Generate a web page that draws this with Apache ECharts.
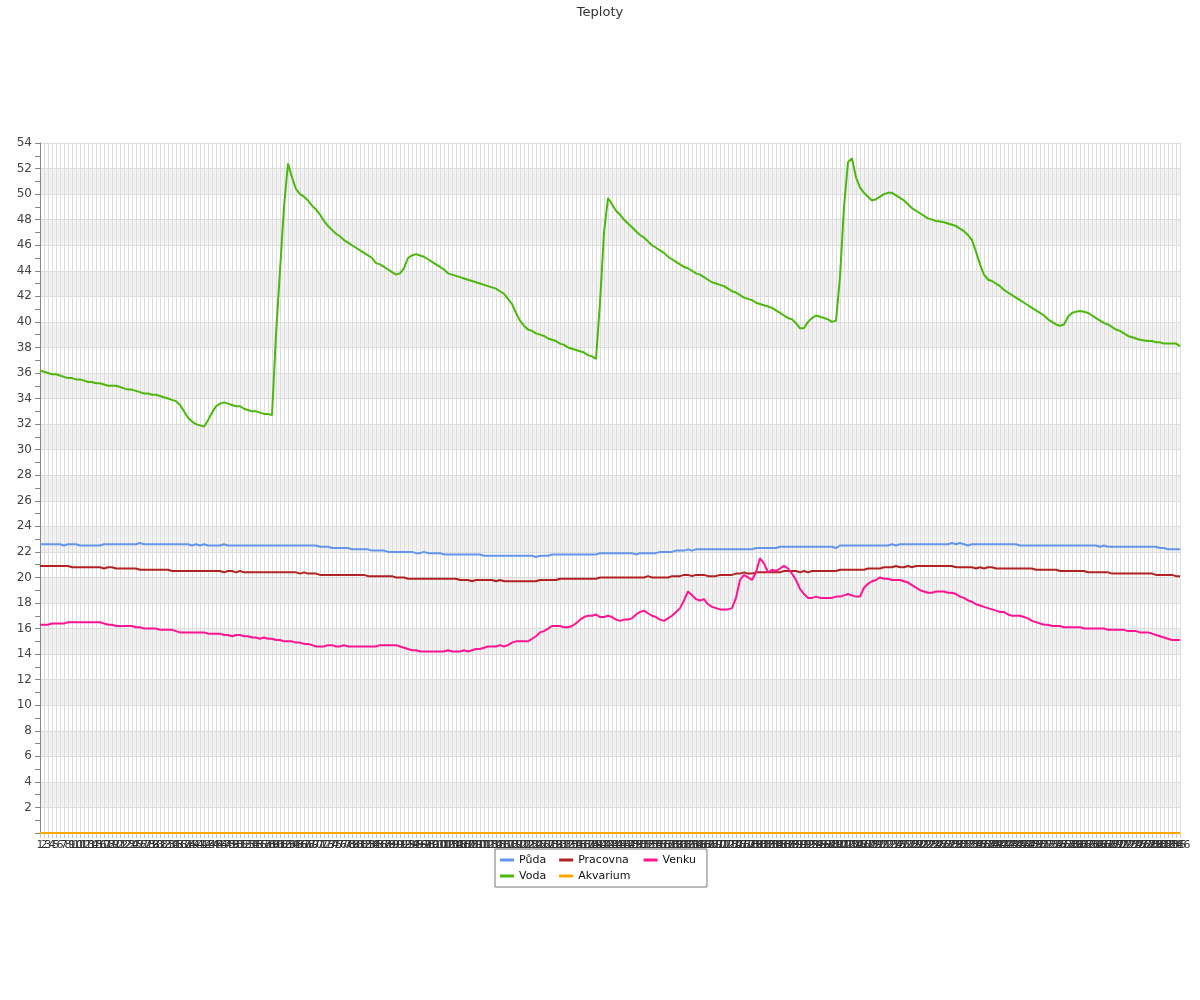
<!DOCTYPE html>
<html>
<head>
<meta charset="utf-8">
<script src="https://cdn.jsdelivr.net/npm/echarts@6/dist/echarts.min.js"></script>
<style>html,body{margin:0;padding:0;background:#fff}#c{width:1200px;height:1000px}</style>
</head>
<body>
<div id="c"></div>
<script>
const title = 'Teploty';
const seriesNames = ['Půda', 'Voda', 'Pracovna', 'Akvarium', 'Venku'];
const categories = [];
for (let i = 1; i <= 286; i++) categories.push(String(i));

const puda = [
22.6,22.6,22.6,22.6,22.6,22.6,22.5,22.6,22.6,22.6,
22.5,22.5,22.5,22.5,22.5,22.5,22.6,22.6,22.6,22.6,
22.6,22.6,22.6,22.6,22.6,22.7,22.6,22.6,22.6,22.6,
22.6,22.6,22.6,22.6,22.6,22.6,22.6,22.6,22.5,22.6,
22.5,22.6,22.5,22.5,22.5,22.5,22.6,22.5,22.5,22.5,
22.5,22.5,22.5,22.5,22.5,22.5,22.5,22.5,22.5,22.5,
22.5,22.5,22.5,22.5,22.5,22.5,22.5,22.5,22.5,22.5,
22.4,22.4,22.4,22.3,22.3,22.3,22.3,22.3,22.2,22.2,
22.2,22.2,22.2,22.1,22.1,22.1,22.1,22.0,22.0,22.0,
22.0,22.0,22.0,22.0,21.9,21.9,22.0,21.9,21.9,21.9,
21.9,21.8,21.8,21.8,21.8,21.8,21.8,21.8,21.8,21.8,
21.8,21.7,21.7,21.7,21.7,21.7,21.7,21.7,21.7,21.7,
21.7,21.7,21.7,21.7,21.6,21.7,21.7,21.7,21.8,21.8,
21.8,21.8,21.8,21.8,21.8,21.8,21.8,21.8,21.8,21.8,
21.9,21.9,21.9,21.9,21.9,21.9,21.9,21.9,21.9,21.8,
21.9,21.9,21.9,21.9,21.9,22.0,22.0,22.0,22.0,22.1,
22.1,22.1,22.2,22.1,22.2,22.2,22.2,22.2,22.2,22.2,
22.2,22.2,22.2,22.2,22.2,22.2,22.2,22.2,22.2,22.3,
22.3,22.3,22.3,22.3,22.3,22.4,22.4,22.4,22.4,22.4,
22.4,22.4,22.4,22.4,22.4,22.4,22.4,22.4,22.4,22.3,
22.5,22.5,22.5,22.5,22.5,22.5,22.5,22.5,22.5,22.5,
22.5,22.5,22.5,22.6,22.5,22.6,22.6,22.6,22.6,22.6,
22.6,22.6,22.6,22.6,22.6,22.6,22.6,22.6,22.7,22.6,
22.7,22.6,22.5,22.6,22.6,22.6,22.6,22.6,22.6,22.6,
22.6,22.6,22.6,22.6,22.6,22.5,22.5,22.5,22.5,22.5,
22.5,22.5,22.5,22.5,22.5,22.5,22.5,22.5,22.5,22.5,
22.5,22.5,22.5,22.5,22.5,22.4,22.5,22.4,22.4,22.4,
22.4,22.4,22.4,22.4,22.4,22.4,22.4,22.4,22.4,22.4,
22.3,22.3,22.2,22.2,22.2,22.2
];

const voda = [
36.2,36.1,36.0,35.9,35.9,35.8,35.7,35.6,35.6,35.5,
35.5,35.4,35.3,35.3,35.2,35.2,35.1,35.0,35.0,35.0,
34.9,34.8,34.7,34.7,34.6,34.5,34.4,34.4,34.3,34.3,
34.2,34.1,34.0,33.9,33.8,33.5,33.0,32.5,32.2,32.0,
31.9,31.8,32.3,32.9,33.4,33.6,33.7,33.6,33.5,33.4,
33.4,33.2,33.1,33.0,33.0,32.9,32.8,32.8,32.7,39.0,
44.0,49.0,52.4,51.3,50.4,50.0,49.8,49.5,49.1,48.8,
48.4,47.9,47.5,47.2,46.9,46.7,46.4,46.2,46.0,45.8,
45.6,45.4,45.2,45.0,44.6,44.5,44.3,44.1,43.9,43.7,
43.8,44.2,45.0,45.2,45.3,45.2,45.1,44.9,44.7,44.5,
44.3,44.1,43.8,43.7,43.6,43.5,43.4,43.3,43.2,43.1,
43.0,42.9,42.8,42.7,42.6,42.4,42.2,41.8,41.4,40.7,
40.1,39.7,39.4,39.3,39.1,39.0,38.9,38.7,38.6,38.5,
38.3,38.2,38.0,37.9,37.8,37.7,37.6,37.4,37.3,37.1,
41.5,47.0,49.7,49.2,48.7,48.4,48.0,47.7,47.4,47.1,
46.8,46.6,46.3,46.0,45.8,45.6,45.4,45.1,44.9,44.7,
44.5,44.3,44.2,44.0,43.8,43.7,43.5,43.3,43.1,43.0,
42.9,42.8,42.6,42.4,42.3,42.1,41.9,41.8,41.7,41.5,
41.4,41.3,41.2,41.1,40.9,40.7,40.5,40.3,40.2,39.9,
39.5,39.5,40.0,40.3,40.5,40.4,40.3,40.2,40.0,40.1,
43.5,49.0,52.5,52.8,51.3,50.5,50.1,49.8,49.5,49.6,
49.8,50.0,50.1,50.1,49.9,49.7,49.5,49.2,48.9,48.7,
48.5,48.3,48.1,48.0,47.9,47.85,47.8,47.7,47.6,47.5,
47.3,47.1,46.8,46.4,45.5,44.5,43.7,43.3,43.2,43.0,
42.8,42.5,42.3,42.1,41.9,41.7,41.5,41.3,41.1,40.9,
40.7,40.5,40.2,40.0,39.8,39.7,39.8,40.4,40.7,40.8,
40.85,40.8,40.7,40.5,40.3,40.1,39.9,39.8,39.6,39.4,
39.3,39.1,38.9,38.8,38.7,38.6,38.55,38.5,38.5,38.4,
38.4,38.3,38.3,38.3,38.3,38.1
];

const pracovna = [
20.9,20.9,20.9,20.9,20.9,20.9,20.9,20.9,20.8,20.8,
20.8,20.8,20.8,20.8,20.8,20.8,20.7,20.8,20.8,20.7,
20.7,20.7,20.7,20.7,20.7,20.6,20.6,20.6,20.6,20.6,
20.6,20.6,20.6,20.5,20.5,20.5,20.5,20.5,20.5,20.5,
20.5,20.5,20.5,20.5,20.5,20.5,20.4,20.5,20.5,20.4,
20.5,20.4,20.4,20.4,20.4,20.4,20.4,20.4,20.4,20.4,
20.4,20.4,20.4,20.4,20.4,20.3,20.4,20.3,20.3,20.3,
20.2,20.2,20.2,20.2,20.2,20.2,20.2,20.2,20.2,20.2,
20.2,20.2,20.1,20.1,20.1,20.1,20.1,20.1,20.1,20.0,
20.0,20.0,19.9,19.9,19.9,19.9,19.9,19.9,19.9,19.9,
19.9,19.9,19.9,19.9,19.9,19.8,19.8,19.8,19.7,19.8,
19.8,19.8,19.8,19.8,19.7,19.8,19.7,19.7,19.7,19.7,
19.7,19.7,19.7,19.7,19.7,19.8,19.8,19.8,19.8,19.8,
19.9,19.9,19.9,19.9,19.9,19.9,19.9,19.9,19.9,19.9,
20.0,20.0,20.0,20.0,20.0,20.0,20.0,20.0,20.0,20.0,
20.0,20.0,20.1,20.0,20.0,20.0,20.0,20.0,20.1,20.1,
20.1,20.2,20.2,20.1,20.2,20.2,20.2,20.1,20.1,20.1,
20.2,20.2,20.2,20.2,20.3,20.3,20.4,20.3,20.3,20.4,
20.4,20.4,20.4,20.4,20.4,20.4,20.5,20.5,20.5,20.5,
20.4,20.5,20.4,20.5,20.5,20.5,20.5,20.5,20.5,20.5,
20.6,20.6,20.6,20.6,20.6,20.6,20.6,20.7,20.7,20.7,
20.7,20.8,20.8,20.8,20.9,20.8,20.8,20.9,20.8,20.9,
20.9,20.9,20.9,20.9,20.9,20.9,20.9,20.9,20.9,20.8,
20.8,20.8,20.8,20.8,20.7,20.8,20.7,20.8,20.8,20.7,
20.7,20.7,20.7,20.7,20.7,20.7,20.7,20.7,20.7,20.6,
20.6,20.6,20.6,20.6,20.6,20.5,20.5,20.5,20.5,20.5,
20.5,20.5,20.4,20.4,20.4,20.4,20.4,20.4,20.3,20.3,
20.3,20.3,20.3,20.3,20.3,20.3,20.3,20.3,20.3,20.2,
20.2,20.2,20.2,20.2,20.1,20.1
];

const akvarium = [
0,0,0,0,0,0,0,0,0,0, 0,0,0,0,0,0,0,0,0,0, 0,0,0,0,0,0,0,0,0,0,
0,0,0,0,0,0,0,0,0,0, 0,0,0,0,0,0,0,0,0,0, 0,0,0,0,0,0,0,0,0,0,
0,0,0,0,0,0,0,0,0,0, 0,0,0,0,0,0,0,0,0,0, 0,0,0,0,0,0,0,0,0,0,
0,0,0,0,0,0,0,0,0,0, 0,0,0,0,0,0,0,0,0,0, 0,0,0,0,0,0,0,0,0,0,
0,0,0,0,0,0,0,0,0,0, 0,0,0,0,0,0,0,0,0,0, 0,0,0,0,0,0,0,0,0,0,
0,0,0,0,0,0,0,0,0,0, 0,0,0,0,0,0,0,0,0,0, 0,0,0,0,0,0,0,0,0,0,
0,0,0,0,0,0,0,0,0,0, 0,0,0,0,0,0,0,0,0,0, 0,0,0,0,0,0,0,0,0,0,
0,0,0,0,0,0,0,0,0,0, 0,0,0,0,0,0,0,0,0,0, 0,0,0,0,0,0,0,0,0,0,
0,0,0,0,0,0,0,0,0,0, 0,0,0,0,0,0,0,0,0,0, 0,0,0,0,0,0,0,0,0,0,
0,0,0,0,0,0,0,0,0,0, 0,0,0,0,0,0
];

const venku = [
16.3,16.3,16.3,16.4,16.4,16.4,16.4,16.5,16.5,16.5,
16.5,16.5,16.5,16.5,16.5,16.5,16.4,16.3,16.3,16.2,
16.2,16.2,16.2,16.2,16.1,16.1,16.0,16.0,16.0,16.0,
15.9,15.9,15.9,15.9,15.8,15.7,15.7,15.7,15.7,15.7,
15.7,15.7,15.6,15.6,15.6,15.6,15.5,15.5,15.4,15.5,
15.5,15.4,15.4,15.3,15.3,15.2,15.3,15.2,15.2,15.1,
15.1,15.0,15.0,15.0,14.9,14.9,14.8,14.8,14.7,14.6,
14.6,14.6,14.7,14.7,14.6,14.6,14.7,14.6,14.6,14.6,
14.6,14.6,14.6,14.6,14.6,14.7,14.7,14.7,14.7,14.7,
14.6,14.5,14.4,14.3,14.3,14.2,14.2,14.2,14.2,14.2,
14.2,14.2,14.3,14.2,14.2,14.2,14.3,14.2,14.3,14.4,
14.4,14.5,14.6,14.6,14.6,14.7,14.6,14.7,14.9,15.0,
15.0,15.0,15.0,15.2,15.4,15.7,15.8,16.0,16.2,16.2,
16.2,16.1,16.1,16.2,16.4,16.7,16.9,17.0,17.0,17.1,
16.9,16.9,17.0,16.9,16.7,16.6,16.7,16.7,16.8,17.1,
17.3,17.4,17.2,17.0,16.9,16.7,16.6,16.8,17.0,17.3,
17.6,18.2,18.9,18.6,18.3,18.2,18.3,17.9,17.7,17.6,
17.5,17.5,17.5,17.6,18.4,19.8,20.2,20.0,19.8,20.4,
21.5,21.1,20.4,20.6,20.5,20.7,20.9,20.7,20.3,19.8,
19.1,18.7,18.4,18.4,18.5,18.4,18.4,18.4,18.4,18.5,
18.5,18.6,18.7,18.6,18.5,18.5,19.2,19.5,19.7,19.8,
20.0,19.9,19.9,19.8,19.8,19.8,19.7,19.6,19.4,19.2,
19.0,18.9,18.8,18.8,18.9,18.9,18.9,18.8,18.8,18.7,
18.5,18.4,18.2,18.1,17.9,17.8,17.7,17.6,17.5,17.4,
17.3,17.3,17.1,17.0,17.0,17.0,16.9,16.8,16.6,16.5,
16.4,16.3,16.3,16.2,16.2,16.2,16.1,16.1,16.1,16.1,
16.1,16.0,16.0,16.0,16.0,16.0,16.0,15.9,15.9,15.9,
15.9,15.9,15.8,15.8,15.8,15.7,15.7,15.7,15.6,15.5,
15.4,15.3,15.2,15.1,15.1,15.1
];

const colors = ['#6495ed', '#4cb80c', '#b22222', '#ffa500', '#ff1493'];
const dataBySeries = [puda, voda, pracovna, akvarium, venku];

const chart = echarts.init(document.getElementById('c'), null, {renderer: 'canvas'});
chart.setOption({
  animation: false,
  backgroundColor: '#fff',
  title: {
    text: title, left: 'center', top: 1,
    textStyle: {fontSize: 13, fontWeight: 'normal', color: '#333', fontFamily: 'DejaVu Sans'}
  },
  legend: {
    orient: 'vertical',
    left: 495, top: 849, height: 30,
    itemGap: 2, itemWidth: 14, itemHeight: 3, itemTextGap: 6,
    icon: 'rect',
    borderColor: '#777', borderWidth: 1, padding: [4, 0, 4, 5],
    textStyle: {fontSize: 11, color: '#111', fontFamily: 'DejaVu Sans', padding: [0, 11, 0, 0], lineHeight: 14},
    data: seriesNames
  },
  grid: {left: 40, right: 20, top: 143, bottom: 167},
  xAxis: {
    type: 'category', boundaryGap: false, data: categories,
    axisLine: {lineStyle: {color: '#888'}},
    axisTick: {show: true, interval: 0, lineStyle: {color: '#ccc'}},
    axisLabel: {interval: 0, fontSize: 11, color: '#333', margin: 7, fontFamily: 'DejaVu Sans'},
    splitLine: {show: true, interval: 0, lineStyle: {color: '#ddd', width: 1}}
  },
  yAxis: {
    type: 'value', min: 0, max: 54, interval: 2,
    axisLine: {show: true, lineStyle: {color: '#888'}},
    axisTick: {show: true, length: 5, lineStyle: {color: '#888'}},
    minorTick: {show: true, splitNumber: 2, length: 5, lineStyle: {color: '#888'}},
    axisLabel: {fontSize: 12, color: '#444', margin: 8, fontFamily: 'DejaVu Sans',
      formatter: v => (v === 0 ? '' : String(v))},
    splitLine: {show: true, lineStyle: {color: '#ddd'}},
    splitArea: {show: true, areaStyle: {color: ['rgba(255,255,255,0)', '#f2f2f2']}}
  },
  series: seriesNames.map((n, k) => ({
    name: n, type: 'line', data: dataBySeries[k],
    showSymbol: false, symbol: 'none',
    lineStyle: {width: 2, color: colors[k]},
    itemStyle: {color: colors[k]},
    z: 2
  }))
});
</script>
</body>
</html>
